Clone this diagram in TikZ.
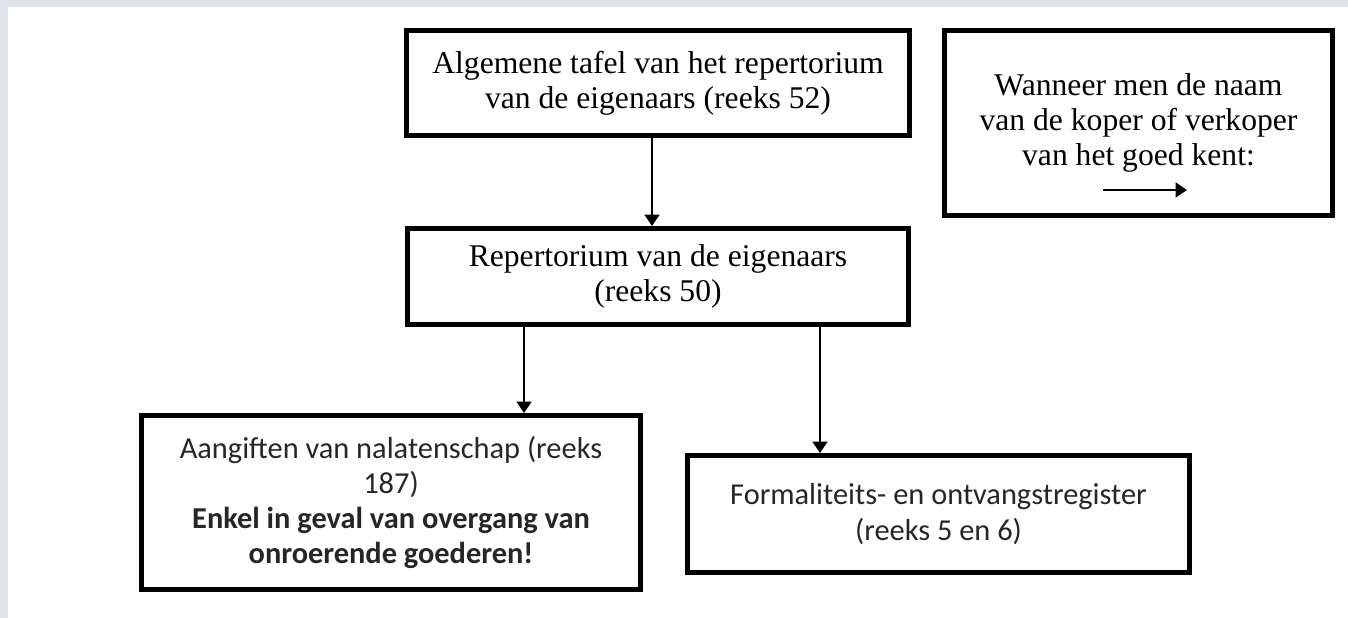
\documentclass[tikz,border=0pt]{standalone}
\usepackage{fontspec}
\setmainfont{Liberation Serif}
\newfontfamily\calibri{Carlito}
\usetikzlibrary{arrows.meta}
\definecolor{pagegrey}{RGB}{224,228,235}

\begin{document}
\begin{tikzpicture}[
    x=0.02cm, y=-0.02cm,
    every node/.style={draw, line width=2.85pt, align=center, inner sep=0pt},
    serifbox/.style={font=\fontsize{18}{20}\selectfont},
    sansbox/.style={font=\calibri\fontsize{17.3}{20}\selectfont, text=black!85},
    link/.style={line width=1.1pt, -{Triangle[width=8.5pt, length=6.5pt]}}
]
    \fill[pagegrey] (0,0) rectangle (1348,618);
    \fill[white] (8,7) rectangle (1348,618);
    \useasboundingbox (0,0) rectangle (1348,618);

    \node[serifbox, minimum width=10.06cm, minimum height=2.1cm] (tafel) at (658,83)
        {Algemene tafel van het repertorium\\van de eigenaars (reeks 52)};
    \node[serifbox, minimum width=7.76cm, minimum height=3.7cm] (uitleg) at (1138.5,123)
        {Wanneer men de naam\\van de koper of verkoper\\van het goed kent:};
    \node[serifbox, minimum width=10.04cm, minimum height=1.92cm] (repert) at (658,276.5)
        {Repertorium van de eigenaars\\(reeks 50)};
    \node[sansbox, minimum width=9.98cm, minimum height=3.48cm] (aangift) at (391,502.5)
        {Aangiften van nalatenschap (reeks\\187)\\\textbf{Enkel in geval van overgang van}\\\textbf{onroerende goederen!}};
    \node[sansbox, minimum width=10.04cm, minimum height=2.34cm] (formal) at (938.5,514)
        {Formaliteits- en ontvangstregister\\(reeks 5 en 6)};

    \coordinate (pijlA) at ([shift={(-35.5,67)}]uitleg.center);
    \coordinate (pijlB) at ([shift={(48.5,67)}]uitleg.center);

    \draw[link] ([xshift=-0.12cm]tafel.south) -- ([xshift=-0.12cm]tafel.south |- repert.north);
    \draw[link] ([xshift=-2.68cm]repert.south) -- ([xshift=-2.68cm]repert.south |- aangift.north);
    \draw[link] ([xshift=3.24cm]repert.south) -- ([xshift=3.24cm]repert.south |- formal.north);
    \draw[link] (pijlA) -- (pijlB);
\end{tikzpicture}
\end{document}
